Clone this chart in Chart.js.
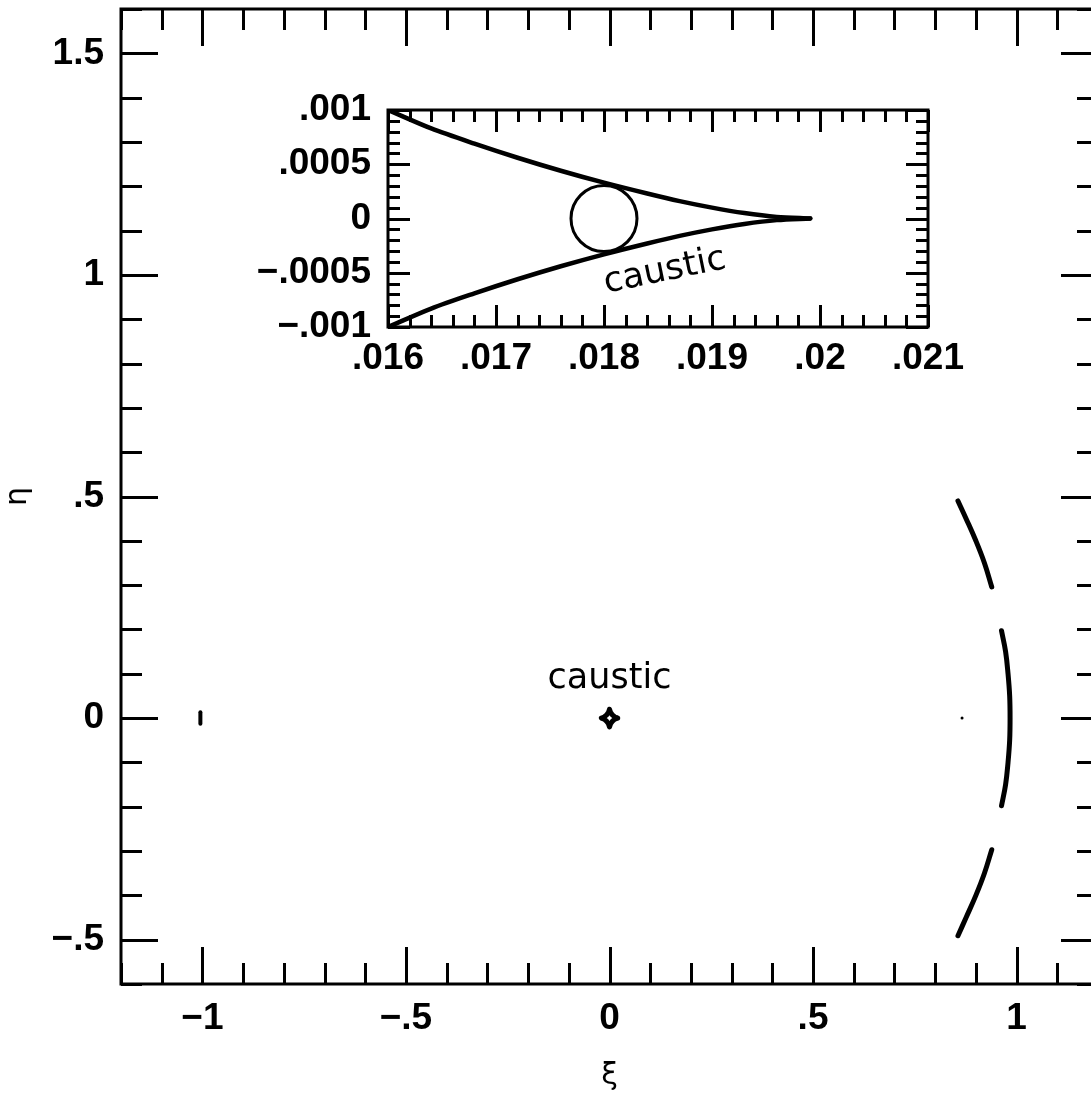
<!DOCTYPE html>
<html><head><meta charset="utf-8">
<script src="https://cdn.jsdelivr.net/npm/chart.js@4.4.1/dist/chart.umd.min.js"></script>
<style>
html,body{margin:0;padding:0;background:#fff;overflow:hidden;width:1091px;height:1094px}
#main{position:absolute;left:0;top:0}
#inset{position:absolute;left:220px;top:71px}
</style></head><body>
<canvas id="main" width="1110" height="1094"></canvas>
<canvas id="inset" width="760" height="319"></canvas>
<script>
// ---------- Main panel ----------
const mainXTicks = [-1, -0.5, 0, 0.5, 1];
const mainXTickLabels = ['\u22121', '\u2212.5', '0', '.5', '1'];
const mainYTicks = [-0.5, 0, 0.5, 1, 1.5];
const mainYTickLabels = ['\u2212.5', '0', '.5', '1', '1.5'];

// image arcs
const arcTop = [
  {x:0.856,y:0.490},{x:0.876,y:0.450},{x:0.900,y:0.400},{x:0.921,y:0.350},{x:0.939,y:0.296}
];
const arcMid = [
  {x:0.963,y:0.197},{x:0.973,y:0.150},{x:0.979,y:0.100},{x:0.983,y:0.050},{x:0.984,y:0.000},
  {x:0.983,y:-0.050},{x:0.979,y:-0.100},{x:0.973,y:-0.150},{x:0.963,y:-0.198}
];
const arcBot = [
  {x:0.939,y:-0.297},{x:0.921,y:-0.350},{x:0.900,y:-0.400},{x:0.876,y:-0.450},{x:0.856,y:-0.491}
];
// central caustic (small astroid at origin)
const centralCaustic = [
  {x:0.020,y:0},{x:0.013,y:0.0025},{x:0.0071,y:0.0071},{x:0.0025,y:0.013},{x:0,y:0.020},
  {x:-0.0025,y:0.013},{x:-0.0071,y:0.0071},{x:-0.013,y:0.0025},{x:-0.020,y:0},
  {x:-0.013,y:-0.0025},{x:-0.0071,y:-0.0071},{x:-0.0025,y:-0.013},{x:0,y:-0.020},
  {x:0.0025,y:-0.013},{x:0.0071,y:-0.0071},{x:0.013,y:-0.0025},{x:0.020,y:0}
];
const leftMark = [{x:-1.005,y:-0.013},{x:-1.005,y:0.013}];
const smallDot = [{x:0.866,y:0}];
const mainNotes = [{text:'caustic', x:0, y:0.068, angle:0}];

// ---------- Inset panel ----------
const insetXTicks = [0.016, 0.017, 0.018, 0.019, 0.020, 0.021];
const insetXTickLabels = ['.016', '.017', '.018', '.019', '.02', '.021'];
const insetYTicks = [-0.001, -0.0005, 0, 0.0005, 0.001];
const insetYTickLabels = ['\u2212.001', '\u2212.0005', '0', '.0005', '.001'];

const causticUpper = [
  {x:0.0160,y:0.00100},{x:0.0164,y:0.00083},{x:0.0168,y:0.00069},{x:0.0172,y:0.00056},
  {x:0.0176,y:0.00044},{x:0.0180,y:0.00033},{x:0.0184,y:0.00023},{x:0.0187,y:0.00016},
  {x:0.0190,y:0.00010},{x:0.0193,y:0.00005},{x:0.0196,y:0.000015},{x:0.01991,y:0}
];
const causticLower = [
  {x:0.0160,y:-0.00100},{x:0.0164,y:-0.00083},{x:0.0168,y:-0.00069},{x:0.0172,y:-0.00056},
  {x:0.0176,y:-0.00044},{x:0.0180,y:-0.00033},{x:0.0184,y:-0.00023},{x:0.0187,y:-0.00016},
  {x:0.0190,y:-0.00010},{x:0.0193,y:-0.00005},{x:0.0196,y:-0.000015},{x:0.01991,y:0}
];
const sourceCenter = [{x:0.018, y:0}];
const insetNotes = [{text:'caustic', x:0.01858, y:-0.00057, angle:-11.6}];

// ---------- helpers ----------
function minorTicks(min, max, step, majors) {
  const out = [];
  const n = Math.round((max - min) / step);
  for (let i = 0; i <= n; i++) {
    const v = +(min + i * step).toFixed(8);
    if (!majors.some(m => Math.abs(m - v) < step * 1e-3)) out.push(v);
  }
  return out;
}

const frameTicks = {
  id: 'frameTicks',
  afterDatasetsDraw(chart, args, o) {
    const {ctx, chartArea: a, scales: {x, y}} = chart;
    ctx.save();
    ctx.strokeStyle = '#000';
    ctx.lineCap = 'butt';
    ctx.lineWidth = o.tickWidth;
    const vx = (vals, len) => vals.forEach(v => {
      const p = Math.round(x.getPixelForValue(v)) + 0.5;
      ctx.beginPath();
      ctx.moveTo(p, a.bottom); ctx.lineTo(p, a.bottom - len);
      ctx.moveTo(p, a.top); ctx.lineTo(p, a.top + len);
      ctx.stroke();
    });
    const vy = (vals, len) => vals.forEach(v => {
      const p = Math.round(y.getPixelForValue(v)) + 0.5;
      ctx.beginPath();
      ctx.moveTo(a.left, p); ctx.lineTo(a.left + len, p);
      ctx.moveTo(a.right, p); ctx.lineTo(a.right - len, p);
      ctx.stroke();
    });
    vx(o.xMajor, o.majorLen); vx(o.xMinor, o.minorLen);
    vy(o.yMajor, o.majorLen); vy(o.yMinor, o.minorLen);
    ctx.lineWidth = o.frameWidth;
    ctx.strokeRect(a.left, a.top, a.right - a.left, a.bottom - a.top);
    ctx.restore();
  }
};

const notesPlugin = {
  id: 'notes',
  afterDatasetsDraw(chart, args, o) {
    const {ctx, scales: {x, y}} = chart;
    ctx.save();
    ctx.fillStyle = '#000';
    ctx.font = o.font;
    ctx.textAlign = 'center';
    ctx.textBaseline = 'alphabetic';
    o.items.forEach(n => {
      ctx.save();
      ctx.translate(x.getPixelForValue(n.x), y.getPixelForValue(n.y));
      ctx.rotate(n.angle * Math.PI / 180);
      ctx.fillText(n.text, 0, 0);
      ctx.restore();
    });
    ctx.restore();
  }
};

const tickFont = {family: 'Liberation Sans', size: 37, weight: 'bold'};

function fixedAxis(sizeProp, size) {
  return function (s) {
    s[sizeProp] = size;
    s.paddingTop = 0; s.paddingBottom = 0; s.paddingLeft = 0; s.paddingRight = 0;
  };
}

function lineDS(data, width, tension) {
  return {data, showLine: true, borderColor: '#000', borderWidth: width, pointRadius: 0,
          tension: tension, fill: false, borderCapStyle: 'round', borderJoinStyle: 'round'};
}

// ---------- main chart ----------
new Chart(document.getElementById('main'), {
  type: 'scatter',
  data: {
    datasets: [
      lineDS(arcTop, 5, 0.4),
      lineDS(arcMid, 5, 0.4),
      lineDS(arcBot, 5, 0.4),
      lineDS(centralCaustic, 5, 0),
      lineDS(leftMark, 4, 0),
      {data: smallDot, showLine: false, pointRadius: 1.5, pointBorderWidth: 0,
       pointBackgroundColor: '#000', borderColor: '#000'}
    ]
  },
  options: {
    responsive: false, animation: false, devicePixelRatio: 1, events: [],
    layout: {padding: {top: 9, right: 12, left: 0, bottom: 0}},
    plugins: {
      legend: {display: false}, tooltip: {enabled: false},
      frameTicks: {
        xMajor: mainXTicks, xMinor: minorTicks(-1.2, 1.2, 0.1, mainXTicks),
        yMajor: mainYTicks, yMinor: minorTicks(-0.6, 1.6, 0.1, mainYTicks),
        majorLen: 37, minorLen: 21, tickWidth: 3, frameWidth: 3
      },
      notes: {items: mainNotes, font: '35px "DejaVu Sans"'}
    },
    scales: {
      x: {
        type: 'linear', min: -1.2, max: 1.2,
        grid: {display: false, drawTicks: false}, border: {display: false},
        afterBuildTicks: s => { s.ticks = mainXTicks.map(v => ({value: v})); },
        afterFit: fixedAxis('height', 110),
        ticks: {autoSkip: false, maxRotation: 0, minRotation: 0, padding: 13, color: '#000',
                font: tickFont, callback: (v, i) => mainXTickLabels[i]},
        title: {display: true, text: '\u03BE', color: '#000',
                font: {family: 'DejaVu Sans', size: 30}, padding: {top: 0, bottom: 0}}
      },
      y: {
        type: 'linear', min: -0.6, max: 1.6,
        grid: {display: false, drawTicks: false}, border: {display: false},
        afterBuildTicks: s => { s.ticks = mainYTicks.map(v => ({value: v})); },
        afterFit: fixedAxis('width', 121),
        ticks: {autoSkip: false, padding: 17, color: '#000',
                font: tickFont, callback: (v, i) => mainYTickLabels[i]},
        title: {display: true, text: '\u03B7', color: '#000',
                font: {family: 'DejaVu Sans', size: 30}, padding: {top: 0, bottom: 0}}
      }
    }
  },
  plugins: [frameTicks, notesPlugin]
});

// ---------- inset chart ----------
new Chart(document.getElementById('inset'), {
  type: 'scatter',
  data: {
    datasets: [
      lineDS(causticUpper, 4.5, 0.3),
      lineDS(causticLower, 4.5, 0.3),
      {data: sourceCenter, showLine: false, pointRadius: 33, pointBorderWidth: 3,
       pointBackgroundColor: 'rgba(0,0,0,0)', pointBorderColor: '#000', pointStyle: 'circle'}
    ]
  },
  options: {
    responsive: false, animation: false, devicePixelRatio: 1, events: [],
    layout: {padding: {top: 39, right: 52, left: 0, bottom: 0}},
    plugins: {
      legend: {display: false}, tooltip: {enabled: false},
      frameTicks: {
        xMajor: insetXTicks, xMinor: minorTicks(0.016, 0.021, 0.0002, insetXTicks),
        yMajor: insetYTicks, yMinor: minorTicks(-0.001, 0.001, 0.0001, insetYTicks),
        majorLen: 22, minorLen: 12, tickWidth: 3, frameWidth: 3
      },
      notes: {items: insetNotes, font: '35px "DejaVu Sans"'}
    },
    scales: {
      x: {
        type: 'linear', min: 0.016, max: 0.021,
        grid: {display: false, drawTicks: false}, border: {display: false},
        afterBuildTicks: s => { s.ticks = insetXTicks.map(v => ({value: v})); },
        afterFit: fixedAxis('height', 63),
        ticks: {autoSkip: false, maxRotation: 0, minRotation: 0, padding: 10, color: '#000',
                font: tickFont, callback: (v, i) => insetXTickLabels[i]}
      },
      y: {
        type: 'linear', min: -0.001, max: 0.001,
        grid: {display: false, drawTicks: false}, border: {display: false},
        afterBuildTicks: s => { s.ticks = insetYTicks.map(v => ({value: v})); },
        afterFit: fixedAxis('width', 168),
        ticks: {autoSkip: false, padding: 17, color: '#000',
                font: tickFont, callback: (v, i) => insetYTickLabels[i]}
      }
    }
  },
  plugins: [frameTicks, notesPlugin]
});
</script>
</body></html>
